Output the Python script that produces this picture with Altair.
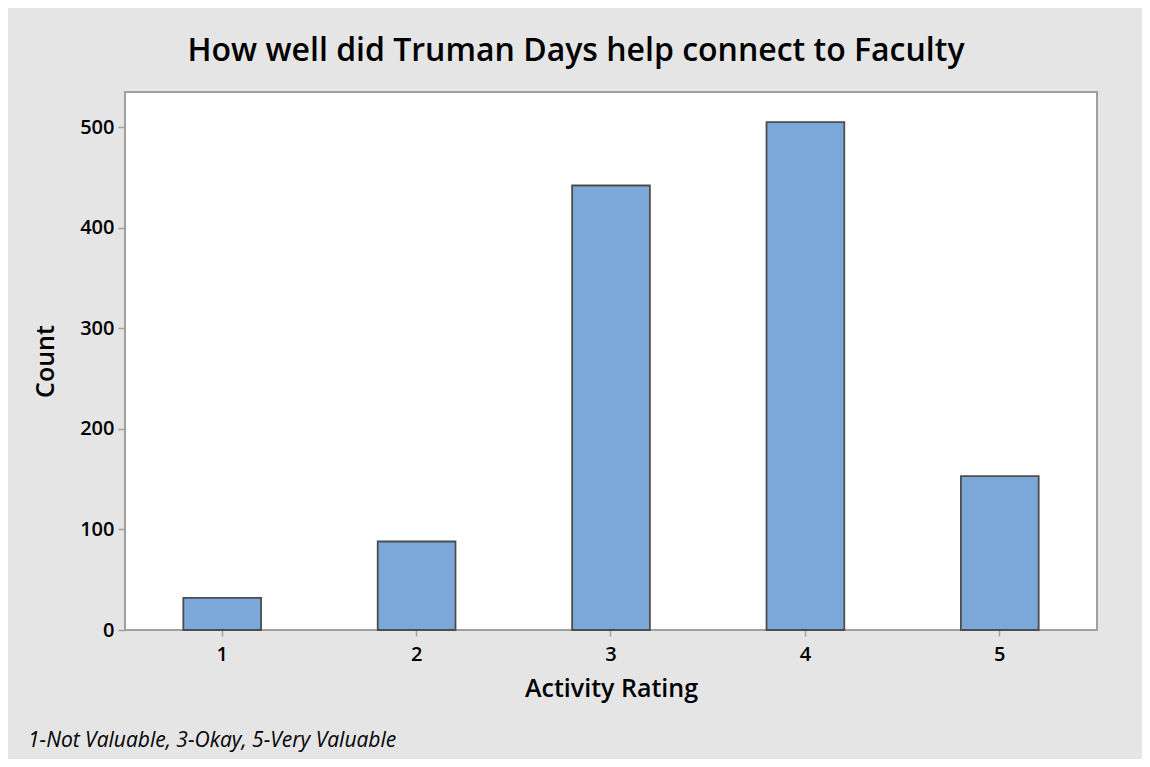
import altair as alt
import pandas as pd

# ---- data ----
ratings = ["1", "2", "3", "4", "5"]
counts = [32, 88, 442, 505, 153]
y_ticks = [0, 100, 200, 300, 400, 500]

title_text = "How well did Truman Days help connect to Faculty"
x_title = "Activity Rating"
y_title = "Count"
footnote = "1-Not Valuable, 3-Okay, 5-Very Valuable"

FONT = "Open Sans"
BAR_FILL = "#7ba7d9"
BAR_STROKE = "#4d4d4d"
FRAME = "#a0a0a0"
BG = "#e5e5e5"

W, H = 972, 538

df = pd.DataFrame({"rating": ratings, "count": counts})

bars = alt.Chart(df).mark_bar(
    fill=BAR_FILL, stroke=BAR_STROKE, strokeWidth=1.8
).encode(
    x=alt.X(
        "rating:O",
        sort=ratings,
        scale=alt.Scale(paddingInner=0.6, paddingOuter=0.3),
        axis=alt.Axis(
            title=x_title,
            labelAngle=0,
            tickSize=6,
            labelPadding=24,
            labelBaseline="alphabetic",
            titleY=66,
            titleBaseline="alphabetic",
            titleFontSize=25,
        ),
    ),
    y=alt.Y(
        "count:Q",
        scale=alt.Scale(domain=[0, 535], nice=False, zero=True),
        axis=alt.Axis(
            title=y_title,
            values=y_ticks,
            tickSize=7,
            labelPadding=4,
            titleX=-72,
            titleY=H / 2,
            titleAngle=-90,
            titleAlign="center",
            titleBaseline="alphabetic",
            titleFontSize=25,
        ),
    ),
)

note = alt.Chart(pd.DataFrame({"t": [footnote]})).mark_text(
    align="left", baseline="alphabetic", font=FONT, fontStyle="italic",
    fontSize=21, color="black"
).encode(
    x=alt.value(-97),
    y=alt.value(655),
    text="t:N",
)

chart = alt.layer(bars, note).properties(
    width=W,
    height=H,
    autosize=alt.AutoSizeParams(type="none"),
    padding={"left": 117, "top": 84, "right": 45, "bottom": 129},
    background=BG,
    title=alt.TitleParams(
        text=title_text,
        font=FONT,
        fontSize=32,
        fontWeight=600,
        color="black",
        anchor="middle",
        frame="group",
        dx=-35,
        baseline="alphabetic",
        offset=-1,
    ),
).configure_view(
    fill="white", stroke=FRAME, strokeWidth=2
).configure_axis(
    grid=False,
    domain=False,
    tickColor=FRAME,
    tickWidth=1.5,
    labelFont=FONT,
    labelFontSize=20,
    labelFontWeight=600,
    labelColor="black",
    titleFont=FONT,
    titleFontWeight=600,
    titleColor="black",
)

chart.save("out.html", embed_options={"renderer": "svg", "actions": False})
